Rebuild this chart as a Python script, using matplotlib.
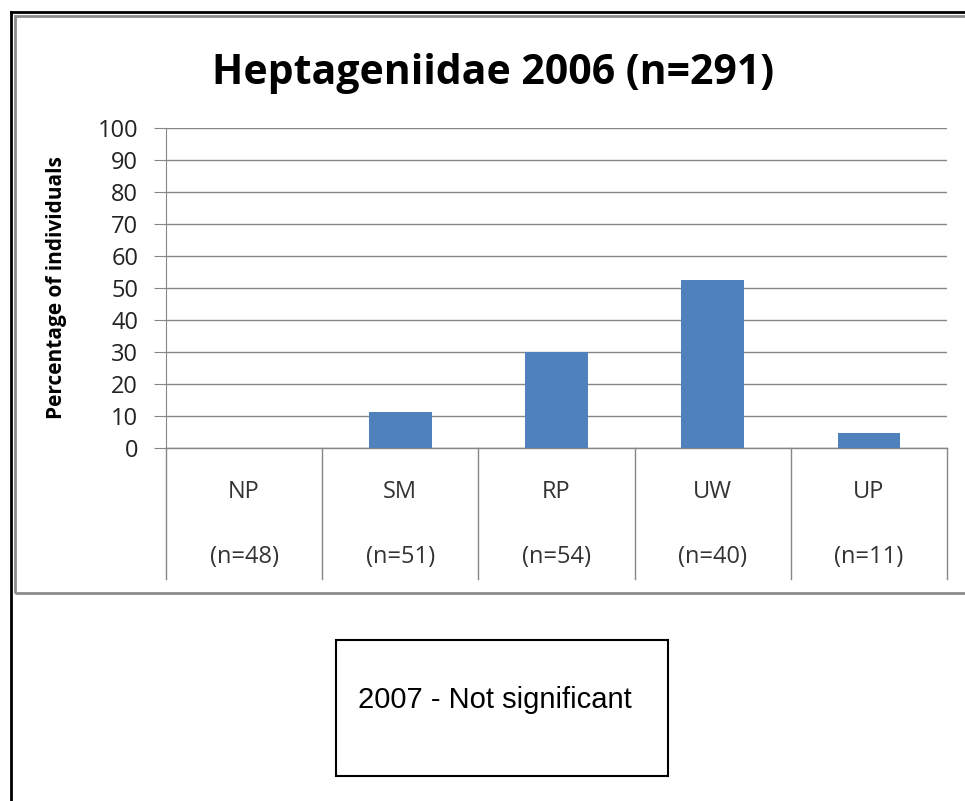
import matplotlib.pyplot as plt
from matplotlib.patches import Rectangle
from matplotlib.lines import Line2D

sites = ["NP", "SM", "RP", "UW", "UP"]
counts = ["(n=48)", "(n=51)", "(n=54)", "(n=40)", "(n=11)"]
percent = [0, 11.3, 30.0, 52.6, 4.6]

W, H = 965, 801
fig = plt.figure(figsize=(W / 100, H / 100), dpi=100)

def fx(px):
    return px / W

def fy(py):
    return 1 - py / H

# plot area in pixel terms
left, right, top, bottom = 166, 947, 128, 448
ax = fig.add_axes([fx(left), fy(bottom), fx(right) - fx(left), fy(top) - fy(bottom)])

grid_c = "#868686"
ax.bar(range(len(sites)), percent, width=0.4, color="#4f81bd", zorder=3)
ax.set_xlim(-0.5, len(sites) - 0.5)
ax.set_ylim(0, 100)
ax.set_yticks(range(0, 101, 10))
ax.yaxis.grid(True, color=grid_c, linewidth=1)
ax.set_axisbelow(True)
for s in ["top", "right", "bottom"]:
    ax.spines[s].set_visible(False)
ax.spines["left"].set_color(grid_c)
ax.set_xticks([])
ax.tick_params(axis="y", length=9, color=grid_c, labelsize=17, pad=11, labelcolor="#222222")
for lab in ax.get_yticklabels():
    lab.set_family("Open Sans")

ax.set_ylabel("Percentage of individuals", fontsize=15, fontweight="bold",
              family="Open Sans")
ax.yaxis.set_label_coords((67 - left) / (right - left), 0.5)

# category table under the axis
tr = ax.get_xaxis_transform()
line_bottom = -(579 - bottom) / (bottom - top)
for i in range(len(sites) + 1):
    ax.add_line(Line2D([i - 0.5, i - 0.5], [0, line_bottom], transform=tr,
                       color=grid_c, linewidth=1, clip_on=False))
ax.add_line(Line2D([-0.5, len(sites) - 0.5], [0, 0], transform=tr,
                   color=grid_c, linewidth=1, clip_on=False))
for i, (s, n) in enumerate(zip(sites, counts)):
    ax.text(i, -(492 - bottom) / (bottom - top), s, transform=tr, ha="center", va="center",
            fontsize=17, family="Open Sans", color="#333333")
    ax.text(i, -(557 - bottom) / (bottom - top), n, transform=tr, ha="center", va="center",
            fontsize=17, family="Open Sans", color="#333333")

fig.text(fx(493), fy(73), "Heptageniidae 2006 (n=291)", ha="center", va="center",
         fontsize=29.5, fontweight="bold", family="Open Sans")

# chart frame and outer page lines
fig.patches.append(Rectangle((fx(15), fy(593)), fx(980) - fx(15), fy(16) - fy(593),
                             transform=fig.transFigure, fill=False,
                             edgecolor="#8c8c8c", linewidth=2))
fig.add_artist(Line2D([fx(11), fx(11)], [fy(12), 0], transform=fig.transFigure,
                      color="black", linewidth=2))
fig.add_artist(Line2D([fx(11), 1], [fy(12), fy(12)], transform=fig.transFigure,
                      color="black", linewidth=2))

# note box
fig.patches.append(Rectangle((fx(336), fy(776)), fx(668) - fx(336), fy(640) - fy(776),
                             transform=fig.transFigure, fill=False,
                             edgecolor="black", linewidth=1.5))
fig.text(fx(358), fy(700), "2007 - Not significant", ha="left", va="center",
         fontsize=21, family="Liberation Sans")

fig.savefig("out.png", dpi=100)
